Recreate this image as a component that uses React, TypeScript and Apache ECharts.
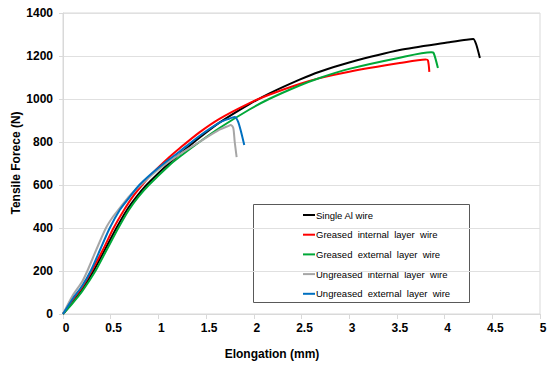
import React, { useEffect, useRef } from "react";
import * as echarts from "echarts";

const seriesNames = [
  "Single Al wire",
  "Greased  internal  layer  wire",
  "Greased  external  layer  wire",
  "Ungreased  internal  layer  wire",
  "Ungreased  external  layer  wire",
];
const seriesColors = ["#000000", "#ff0000", "#00a838", "#a6a6a6", "#0070c0"];

const singleAl = [[0,0],[0.1,55],[0.2,115],[0.32,200],[0.45,308],[0.56,400],[0.67,484],[0.77,545],[0.875,600],[1.0,655],[1.11,700],[1.22,743],[1.43,820],[1.64,890],[1.95,975],[2.16,1025],[2.48,1090],[2.69,1127],[3.0,1170],[3.53,1228],[4.05,1264],[4.23,1276],[4.3,1279],[4.33,1256],[4.37,1191]];
const greasedInternal = [[0,0],[0.1,65],[0.2,125],[0.3,200],[0.42,300],[0.53,400],[0.64,484],[0.73,545],[0.83,600],[0.95,660],[1.11,728],[1.22,770],[1.43,845],[1.64,908],[1.95,980],[2.16,1020],[2.48,1070],[2.69,1097],[3.0,1127],[3.53,1167],[3.8,1184],[3.825,1180],[3.84,1126]];
const greasedExternal = [[0,0],[0.1,50],[0.2,105],[0.34,200],[0.46,300],[0.58,400],[0.69,484],[0.79,545],[0.9,600],[1.11,690],[1.22,730],[1.43,800],[1.64,865],[1.95,950],[2.16,1000],[2.48,1063],[2.69,1098],[3.0,1140],[3.53,1192],[3.86,1217],[3.885,1214],[3.93,1144]];
const ungreasedInternal = [[0,0],[0.1,85],[0.2,150],[0.255,200],[0.35,300],[0.45,400],[0.52,450],[0.58,484],[0.7,550],[0.84,610],[1.0,672],[1.22,742],[1.43,800],[1.64,857],[1.72,872],[1.76,879],[1.785,865],[1.8,800],[1.82,730]];
const ungreasedExternal = [[0,0],[0.1,70],[0.2,130],[0.29,200],[0.39,300],[0.49,400],[0.595,484],[0.7,545],[0.8,600],[1.0,680],[1.22,755],[1.43,828],[1.64,890],[1.74,908],[1.8,916],[1.835,895],[1.865,850],[1.9,786]];

const allData = [singleAl, greasedInternal, greasedExternal, ungreasedInternal, ungreasedExternal];

const xTitle = "Elongation (mm)";
const yTitle = "Tensile Forece (N)";
const FONT = "'Liberation Sans', Arial, sans-serif";

export default function App() {
  const ref = useRef<HTMLDivElement>(null);
  useEffect(() => {
    document.body.style.margin = "0";
    if (!ref.current) return;
    const chart = echarts.init(ref.current, undefined, { renderer: "svg" });
    const legendTop = 215;
    const legendStep = 19.7;
    const legendEls: any[] = [
      {
        type: "rect",
        shape: { x: 253.5, y: 204.5, width: 216, height: 98 },
        style: { fill: "#ffffff", stroke: "#595959", lineWidth: 1 },
      },
    ];
    seriesNames.forEach((n, i) => {
      const y = legendTop + i * legendStep;
      legendEls.push({
        type: "line",
        shape: { x1: 303, y1: y, x2: 315, y2: y },
        style: { stroke: seriesColors[i], lineWidth: 2 },
      });
      legendEls.push({
        type: "text",
        x: 316,
        y: y,
        style: {
          text: n,
          fill: "#000",
          font: `9.5px ${FONT}`,
          textAlign: "left",
          textVerticalAlign: "middle",
        },
      });
    });
    chart.setOption({
      animation: false,
      grid: {
        left: 63,
        right: 10,
        top: 13,
        bottom: 51,
        show: true,
        borderColor: "#d9d9d9",
        borderWidth: 1,
      },
      xAxis: {
        type: "value",
        min: 0,
        max: 5,
        interval: 0.5,
        axisLine: { show: true, lineStyle: { color: "#d9d9d9" } },
        axisTick: { show: true, length: 5, lineStyle: { color: "#d9d9d9" } },
        splitLine: { show: false },
        axisLabel: {
          margin: 8,
          color: "#000",
          fontWeight: "bold",
          fontSize: 12,
          fontFamily: FONT,
          padding: [0, 0, 0, 6],
          showMaxLabel: true,
          showMinLabel: true,
          formatter: (v: number) => String(v),
        },
      },
      yAxis: {
        type: "value",
        min: 0,
        max: 1400,
        interval: 200,
        axisLine: { show: true, lineStyle: { color: "#d9d9d9" } },
        axisTick: { show: true, length: 4, lineStyle: { color: "#d9d9d9" } },
        splitLine: { show: true, lineStyle: { color: "#e0e0e0" } },
        axisLabel: {
          margin: 10,
          color: "#000",
          fontWeight: "bold",
          fontSize: 12,
          fontFamily: FONT,
          formatter: (v: number) => String(v),
        },
      },
      series: allData.map((d, i) => ({
        name: seriesNames[i],
        type: "line",
        data: d,
        showSymbol: false,
        smooth: 0.25,
        lineStyle: { color: seriesColors[i], width: 2 },
        itemStyle: { color: seriesColors[i] },
        z: 2 + i,
      })),
      graphic: [
        {
          type: "text",
          x: 272,
          y: 354,
          style: {
            text: xTitle,
            fill: "#000",
            font: `bold 12px ${FONT}`,
            textAlign: "center",
            textVerticalAlign: "middle",
          },
        },
        {
          type: "text",
          x: 16,
          y: 163,
          rotation: Math.PI / 2,
          style: {
            text: yTitle,
            fill: "#000",
            font: `bold 12px ${FONT}`,
            textAlign: "center",
            textVerticalAlign: "middle",
          },
        },
        { type: "group", z: 100, children: legendEls },
      ],
    });
    return () => chart.dispose();
  }, []);
  return <div ref={ref} style={{ width: 550, height: 365 }} />;
}
